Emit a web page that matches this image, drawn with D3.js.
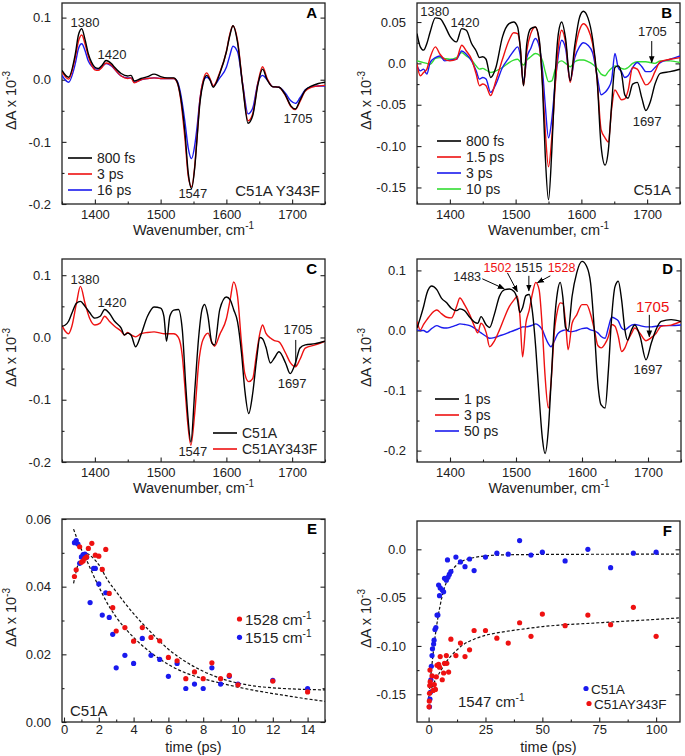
<!DOCTYPE html>
<html lang="en">
<head>
<meta charset="utf-8">
<title>Transient IR spectra and kinetics</title>
<script src="https://cdnjs.cloudflare.com/ajax/libs/d3/7.8.5/d3.min.js"></script>
<style>
  body { margin: 0; background: #fff; }
  svg { font-family: Arial, "Liberation Sans", sans-serif; }
  .tick text { font-size: 13px; fill: #222; }
  .tick line { stroke: #222; stroke-width: 1.1; }
</style>
</head>
<body>
<script>
// ---------- panel A : C51A Y343F ----------
var wnA = [1350,1360,1370,1375,1380,1385,1390,1395,1400,1405,1410,1417,1425,1430,1440,1450,1455,1460,1470,1480,1490,1500,1510,1520,1525,1530,1537,1542,1547,1552,1555,1560,1565,1570,1575,1580,1590,1600,1605,1610,1617,1625,1633,1640,1648,1655,1662,1670,1680,1690,1698,1705,1712,1720,1730,1740,1750];
var a800fs = [0.015,0.004,0.040,0.072,0.082,0.065,0.042,0.028,0.020,0.018,0.022,0.031,0.026,0.020,0.010,0.006,0.007,-0.002,0.002,0.005,0.009,0.005,0.003,0.003,-0.003,-0.025,-0.085,-0.150,-0.175,-0.140,-0.100,-0.035,-0.004,0.007,0.000,-0.012,0.010,0.045,0.070,0.087,0.060,-0.012,-0.070,-0.058,-0.008,0.017,0.000,-0.011,-0.012,-0.025,-0.042,-0.047,-0.033,-0.017,-0.010,-0.006,-0.004];
var a3ps = [0.013,0.001,0.035,0.062,0.072,0.058,0.038,0.024,0.016,0.015,0.019,0.027,0.024,0.017,0.006,0.002,0.003,-0.005,0.000,0.002,0.003,0.002,0.002,0.002,-0.004,-0.028,-0.095,-0.155,-0.172,-0.138,-0.098,-0.030,0.000,0.011,0.002,-0.010,0.012,0.045,0.072,0.087,0.063,-0.010,-0.066,-0.055,-0.005,0.021,0.002,-0.011,-0.012,-0.026,-0.043,-0.048,-0.035,-0.018,-0.012,-0.010,-0.009];
var a16ps = [0.007,-0.004,0.025,0.050,0.058,0.047,0.030,0.022,0.018,0.017,0.020,0.026,0.022,0.017,0.006,0.003,0.003,-0.004,0.000,0.002,0.003,0.002,0.002,0.002,-0.002,-0.020,-0.068,-0.110,-0.127,-0.105,-0.080,-0.030,-0.002,0.004,0.000,-0.010,0.003,0.020,0.038,0.054,0.045,-0.008,-0.055,-0.046,-0.005,0.007,0.000,-0.011,-0.012,-0.022,-0.034,-0.038,-0.029,-0.016,-0.011,-0.010,-0.010];

// ---------- panel B : C51A ----------
var wnB = [1350,1355,1360,1365,1370,1378,1385,1392,1400,1410,1418,1425,1433,1440,1445,1450,1455,1462,1470,1480,1490,1497,1503,1507,1512,1517,1523,1530,1536,1541,1545,1550,1555,1560,1565,1570,1576,1583,1590,1597,1603,1610,1617,1624,1630,1636,1641,1646,1651,1656,1661,1666,1671,1678,1685,1692,1698,1705,1712,1720,1735,1750];
var b800fs = [0.036,0.020,0.016,0.024,0.038,0.055,0.054,0.046,0.033,0.026,0.042,0.040,0.024,0.015,0.007,0.008,0.005,-0.017,-0.005,0.032,0.048,0.050,0.044,0.020,-0.027,0.024,0.042,0.044,0.028,-0.030,-0.110,-0.165,-0.106,-0.017,0.036,0.050,0.030,-0.021,0.022,0.055,0.063,0.055,0.030,-0.020,-0.100,-0.123,-0.105,-0.050,-0.005,-0.003,-0.012,-0.038,-0.042,-0.025,-0.023,-0.042,-0.057,-0.046,-0.025,-0.012,-0.010,-0.007];
var b1p5ps = [-0.001,-0.015,-0.011,-0.007,0.007,0.020,0.011,0.005,0.003,0.005,0.022,0.015,0.005,-0.013,-0.027,-0.025,-0.027,-0.039,-0.021,0.005,0.028,0.037,0.036,0.020,-0.027,0.015,0.036,0.044,0.025,-0.025,-0.080,-0.125,-0.090,-0.030,0.020,0.040,0.025,-0.023,0.015,0.040,0.048,0.042,0.024,-0.020,-0.080,-0.090,-0.095,-0.055,-0.032,-0.038,-0.044,-0.043,-0.033,-0.005,-0.007,-0.018,-0.026,-0.022,-0.010,0.002,0.005,0.007];
var b3ps = [-0.003,-0.009,-0.007,-0.013,0.001,0.007,0.009,0.003,0.004,0.005,0.015,0.011,0.003,-0.009,-0.019,-0.017,-0.019,-0.035,-0.025,-0.005,0.007,0.015,0.020,0.010,-0.023,0.007,0.018,0.030,0.020,-0.010,-0.050,-0.090,-0.068,-0.025,0.010,0.028,0.018,-0.021,0.007,0.020,0.025,0.022,0.013,-0.015,-0.038,-0.035,-0.030,-0.020,0.012,-0.005,-0.010,-0.017,-0.015,-0.005,0.001,-0.004,-0.010,-0.010,-0.005,0.001,0.005,0.009];
var b10ps = [0.003,0.002,0.001,0.000,-0.001,0.006,0.007,0.006,0.005,0.007,0.013,0.009,0.004,-0.003,-0.007,-0.006,-0.008,-0.011,-0.009,-0.005,0.001,0.004,0.005,0.002,-0.002,0.004,0.008,0.012,0.010,0.003,-0.010,-0.022,-0.021,-0.008,0.001,0.003,0.000,-0.004,0.002,0.004,0.004,0.002,-0.001,-0.006,-0.013,-0.015,-0.010,-0.006,-0.003,-0.004,-0.006,-0.007,-0.005,0.000,0.002,0.002,0.002,0.001,0.000,0.003,0.003,0.001];

// ---------- panel C : C51A vs C51AY343F ----------
var wnC = [1350,1355,1360,1365,1372,1378,1385,1392,1400,1408,1415,1422,1430,1440,1445,1450,1455,1462,1470,1480,1490,1500,1505,1509,1514,1520,1527,1533,1538,1541,1546,1552,1558,1563,1567,1572,1578,1582,1590,1600,1606,1611,1617,1623,1628,1634,1640,1646,1651,1655,1660,1667,1673,1680,1690,1697,1705,1712,1720,1735,1750];
var cC51A = [0.018,0.020,0.026,0.039,0.055,0.058,0.050,0.040,0.031,0.034,0.045,0.039,0.026,0.015,0.004,0.007,0.004,-0.015,0.004,0.034,0.049,0.047,0.034,-0.006,0.034,0.044,0.045,0.012,-0.074,-0.120,-0.168,-0.084,0.002,0.045,0.053,0.034,-0.009,-0.012,0.045,0.065,0.060,0.045,0.025,-0.025,-0.084,-0.122,-0.090,-0.035,0.000,-0.002,-0.015,-0.041,-0.033,-0.023,-0.041,-0.058,-0.041,-0.017,-0.012,-0.010,-0.006];
var cY343F = [0.019,0.010,0.006,0.018,0.055,0.082,0.055,0.031,0.020,0.023,0.034,0.026,0.018,0.010,0.004,0.008,0.004,0.001,0.006,0.008,0.009,0.007,0.006,0.006,0.006,0.006,0.000,-0.030,-0.095,-0.135,-0.173,-0.120,-0.040,-0.008,0.002,0.007,-0.008,-0.014,0.005,0.030,0.062,0.089,0.066,-0.009,-0.058,-0.071,-0.066,-0.025,0.007,0.020,0.007,-0.001,-0.005,-0.007,-0.025,-0.040,-0.047,-0.035,-0.017,-0.012,-0.006];

// ---------- panel D ----------
var wnD = [1350,1355,1360,1365,1372,1380,1387,1395,1402,1410,1415,1422,1430,1437,1442,1447,1455,1460,1467,1475,1483,1490,1497,1502,1506,1510,1515,1520,1525,1530,1535,1540,1544,1549,1553,1558,1563,1567,1571,1575,1579,1585,1592,1600,1607,1613,1619,1624,1629,1635,1640,1645,1650,1655,1660,1665,1669,1675,1680,1688,1697,1705,1712,1720,1735,1750];
var d1ps = [0.004,0.021,0.040,0.062,0.074,0.068,0.054,0.046,0.037,0.033,0.036,0.033,0.022,0.014,0.012,0.023,0.009,0.005,0.026,0.057,0.068,0.069,0.065,0.052,0.030,0.038,0.058,0.060,0.030,-0.030,-0.110,-0.180,-0.205,-0.165,-0.090,0.010,0.065,0.080,0.055,0.005,0.000,0.057,0.096,0.115,0.107,0.079,-0.004,-0.088,-0.124,-0.129,-0.066,0.023,0.073,0.082,0.051,0.001,-0.016,0.001,0.009,-0.010,-0.049,-0.021,0.001,0.015,0.018,0.015];
var d3ps = [0.015,0.001,0.010,0.018,0.028,0.034,0.028,0.022,0.021,0.040,0.054,0.043,0.026,0.007,-0.004,0.012,-0.004,-0.027,-0.018,0.001,0.023,0.040,0.051,0.057,0.023,-0.044,0.012,0.034,0.062,0.080,0.068,0.001,-0.075,-0.129,-0.088,-0.004,0.034,0.046,0.045,0.015,-0.032,0.012,0.026,0.043,0.043,0.027,0.000,-0.025,-0.029,-0.022,-0.010,0.010,0.007,-0.010,-0.035,-0.029,-0.018,-0.005,0.004,-0.005,-0.017,-0.012,-0.005,0.007,0.009,0.015];
var d50ps = [0.001,0.000,0.000,-0.003,0.003,0.008,0.005,0.004,0.006,0.009,0.011,0.010,0.008,0.004,0.000,-0.004,-0.010,-0.013,-0.012,-0.009,-0.006,-0.003,0.000,0.002,0.004,0.006,0.006,0.007,0.009,0.011,0.008,0.001,-0.010,-0.022,-0.027,-0.018,-0.006,-0.002,0.000,0.001,-0.001,-0.002,0.000,0.003,0.004,0.001,-0.001,-0.004,-0.010,-0.013,0.005,0.022,0.020,0.016,0.004,0.001,0.004,0.009,0.010,0.008,0.006,0.006,0.007,0.008,0.008,0.009];

// ---------- panel E : kinetics C51A (time ps, dA) ----------
var e1528 = [[0.6,0.043],[0.7,0.045],[0.9,0.0518],[1.0,0.0472],[1.1,0.0476],[1.2,0.0484],[1.3,0.0488],[1.4,0.0513],[1.6,0.0528],[1.8,0.0493],[2.0,0.049],[2.2,0.0451],[2.4,0.051],[2.6,0.038],[2.8,0.0338],[3.0,0.0269],[3.5,0.0279],[4,0.0239],[4.5,0.0279],[5,0.025],[5.5,0.024],[6,0.0191],[6.5,0.0181],[7,0.0128],[7.5,0.0148],[8,0.0128],[8.5,0.0175],[9,0.0128],[9.5,0.0138],[10,0.011],[12,0.0121],[14,0.0089]];
var e1515 = [[0.6,0.053],[0.7,0.0536],[0.8,0.0526],[0.9,0.0469],[1.0,0.0488],[1.1,0.0495],[1.2,0.0496],[1.3,0.0487],[1.5,0.0353],[1.7,0.0454],[1.8,0.0454],[2.0,0.0408],[2.2,0.0316],[2.4,0.0382],[2.6,0.0309],[2.8,0.0259],[3.0,0.016],[3.5,0.0197],[4,0.0173],[4.5,0.0247],[5,0.0197],[5.5,0.0185],[6,0.0135],[6.5,0.0173],[7,0.0099],[7.5,0.0112],[8,0.0099],[8.5,0.016],[9,0.0112],[9.5,0.0135],[10,0.0112],[12,0.0123],[14,0.0099]];
var e1528fit = [[0.55,0.041],[0.7,0.0445],[0.9,0.048],[1.1,0.0497],[1.3,0.0498],[1.6,0.0488],[2,0.0465],[2.5,0.042],[3,0.0385],[4,0.032],[5,0.0265],[6,0.0215],[7,0.0178],[8,0.015],[9,0.0129],[10,0.0115],[11,0.0106],[12,0.0101],[13,0.0098],[14,0.0096],[15,0.0095]];
var e1515fit = [[0.55,0.057],[0.8,0.0535],[1.0,0.051],[1.2,0.049],[1.5,0.0455],[2,0.040],[2.5,0.035],[3,0.031],[4,0.025],[5,0.0205],[6,0.017],[7,0.0145],[8,0.0128],[9,0.0115],[10,0.0103],[11,0.0093],[12,0.0084],[13,0.0076],[14,0.0068],[15,0.0061]];

// ---------- panel F : 1547 cm-1 kinetics ----------
var fC51A = [[0.4,-0.163],[0.6,-0.155],[0.8,-0.148],[1.0,-0.135],[1.2,-0.121],[1.5,-0.110],[1.7,-0.103],[2.2,-0.098],[2.4,-0.094],[2.8,-0.083],[3.2,-0.081],[3.7,-0.068],[4.1,-0.068],[4.4,-0.037],[4.8,-0.048],[5.1,-0.040],[6,-0.042],[6.6,-0.044],[7,-0.030],[7.8,-0.032],[8.3,-0.011],[8.5,-0.029],[9.1,-0.026],[9.8,-0.023],[12,-0.008],[14,-0.013],[16,-0.018],[18,-0.010],[20,-0.022],[25,-0.008],[30,-0.004],[35,-0.005],[40,0.009],[45,-0.006],[50,-0.003],[60,-0.012],[70,0.0],[80,-0.019],[90,-0.004],[100,-0.003]];
var fY343F = [[0.2,-0.163],[0.3,-0.157],[0.4,-0.149],[0.5,-0.141],[0.6,-0.125],[0.7,-0.137],[1.5,-0.131],[2,-0.146],[2.5,-0.140],[3,-0.145],[3.4,-0.132],[3.7,-0.120],[4.4,-0.119],[4.8,-0.122],[5.1,-0.111],[6,-0.135],[6.6,-0.128],[7,-0.118],[7.8,-0.110],[8,-0.118],[8.8,-0.127],[9.8,-0.093],[12,-0.110],[14,-0.097],[16,-0.111],[18,-0.104],[20,-0.084],[25,-0.084],[30,-0.092],[35,-0.097],[40,-0.076],[45,-0.090],[50,-0.067],[60,-0.079],[70,-0.068],[80,-0.078],[90,-0.060],[100,-0.090]];
var fC51Afit = [[0,-0.155],[1,-0.13],[2,-0.108],[3,-0.088],[4,-0.072],[5,-0.059],[6,-0.048],[8,-0.033],[10,-0.023],[12,-0.017],[15,-0.012],[20,-0.0085],[25,-0.0068],[30,-0.006],[40,-0.0055],[60,-0.0052],[110,-0.005]];
var fY343Ffit = [[0.3,-0.148],[1,-0.145],[2,-0.14],[3,-0.135],[5,-0.127],[7,-0.119],[10,-0.110],[12.5,-0.104],[15,-0.099],[20,-0.093],[25,-0.089],[30,-0.0865],[40,-0.083],[50,-0.080],[75,-0.076],[100,-0.0725],[110,-0.071]];

// tick label strings
var wnTicks = [1400,1500,1600,1700];
var ticksACD = [-0.2,-0.1,0,0.1];
var labelsACD = ["-0.2","-0.1","0.0","0.1"];
var ticksB = [-0.15,-0.10,-0.05,0,0.05];
var labelsB = ["-0.15","-0.10","-0.05","0.0","0.05"];
var ticksE = [0,0.02,0.04,0.06];
var labelsE = ["0.00","0.02","0.04","0.06"];
var timeTicksE = [0,2,4,6,8,10,12,14];
var ticksF = [-0.15,-0.10,-0.05,0];
var labelsF = ["-0.15","-0.10","-0.05","0.0"];
var timeTicksF = [0,25,50,75,100];

var RED = "#ee1111", BLUE = "#1a1aee", GREEN = "#33dd33", BLACK = "#000";

var W = 685, H = 756;
var svg = d3.select("body").append("svg").attr("width", W).attr("height", H);

var defs = svg.append("defs");
defs.append("marker").attr("id", "arr").attr("viewBox", "0 0 10 10")
	.attr("refX", 9).attr("refY", 5).attr("markerWidth", 7).attr("markerHeight", 7)
	.attr("orient", "auto").append("path").attr("d", "M0,1 L10,5 L0,9 Z").attr("fill", "#000");

// build one framed panel with inward ticks
function panel(o) {
	var g = svg.append("g");
	var x = d3.scaleLinear().domain(o.xDomain).range([o.left, o.right]);
	var y = d3.scaleLinear().domain(o.yDomain).range([o.bottom, o.top]);
	var noDomain = function(s) { s.select(".domain").remove(); };

	g.append("g").attr("transform", "translate(0," + o.bottom + ")")
		.call(d3.axisBottom(x).tickValues(o.xMinor).tickSize(-2.5).tickFormat("")).call(noDomain);
	g.append("g").attr("transform", "translate(0," + o.bottom + ")")
		.call(d3.axisBottom(x).tickValues(o.xMajor).tickSize(-4.5).tickPadding(o.xPad || 6)
			.tickFormat(o.xFmt || d3.format("d"))).call(noDomain);
	g.append("g").attr("transform", "translate(" + o.left + ",0)")
		.call(d3.axisLeft(y).tickValues(o.yMinor).tickSize(-2.5).tickFormat("")).call(noDomain);
	g.append("g").attr("transform", "translate(" + o.left + ",0)")
		.call(d3.axisLeft(y).tickValues(o.yMajor).tickSize(-4.5).tickPadding(11)
			.tickFormat(function(d, i) { return o.yLabels[i]; })).call(noDomain);
	g.append("g").attr("transform", "translate(" + o.right + ",0)")
		.call(d3.axisRight(y).tickValues(o.yMajor).tickSize(-4.5).tickFormat("")).call(noDomain);
	g.append("g").attr("transform", "translate(" + o.right + ",0)")
		.call(d3.axisRight(y).tickValues(o.yMinor).tickSize(-2.5).tickFormat("")).call(noDomain);

	g.append("rect").attr("x", o.left).attr("y", o.top)
		.attr("width", o.right - o.left).attr("height", o.bottom - o.top)
		.attr("fill", "none").attr("stroke", "#222").attr("stroke-width", 1.3);

	// y title
	var yt = g.append("text")
		.attr("transform", "translate(" + (o.left - 46) + "," + ((o.top + o.bottom) / 2 - 3) + ") rotate(-90)")
		.attr("text-anchor", "middle").style("font-size", "14.5px").attr("fill", "#222");
	yt.append("tspan").text("\u0394A x 10");
	yt.append("tspan").attr("dy", -6).style("font-size", "10px").text("-3");

	// x title
	var xt = g.append("text").attr("x", (o.left + o.right) / 2).attr("y", o.bottom + o.titleGap)
		.attr("text-anchor", "middle").style("font-size", "14.5px").attr("fill", "#222");
	xt.append("tspan").text(o.xTitle);
	if (o.xSup) xt.append("tspan").attr("dy", -6).style("font-size", "10px").text(o.xSup);

	g.append("text").attr("x", o.right - 8).attr("y", o.top + 15).attr("text-anchor", "end")
		.style("font-size", "15px").style("font-weight", "bold").text(o.letter);

	var clipId = "clip" + o.letter;
	defs.append("clipPath").attr("id", clipId).append("rect")
		.attr("x", o.left).attr("y", o.top).attr("width", o.right - o.left).attr("height", o.bottom - o.top);
	var plot = g.append("g").attr("clip-path", "url(#" + clipId + ")");
	return { g: g, plot: plot, x: x, y: y, o: o };
}

function spectrum(p, wn, vals, color) {
	var line = d3.line().x(function(d, i) { return p.x(wn[i]); }).y(function(d) { return p.y(d); })
		.curve(d3.curveMonotoneX);
	p.plot.append("path").datum(vals).attr("d", line)
		.attr("fill", "none").attr("stroke", color).attr("stroke-width", 1.4);
}

function fit(p, pts) {
	var line = d3.line().x(function(d) { return p.x(d[0]); }).y(function(d) { return p.y(d[1]); })
		.curve(d3.curveMonotoneX);
	p.plot.append("path").datum(pts).attr("d", line)
		.attr("fill", "none").attr("stroke", "#111").attr("stroke-width", 1.2).attr("stroke-dasharray", "3,2");
}

function dots(p, pts, color) {
	p.plot.selectAll(null).data(pts).enter().append("circle")
		.attr("cx", function(d) { return p.x(d[0]); }).attr("cy", function(d) { return p.y(d[1]); })
		.attr("r", 2.6).attr("fill", color);
}

function label(p, wn, v, txt, color, size) {
	p.g.append("text").attr("x", p.x(wn)).attr("y", p.y(v)).attr("text-anchor", "middle")
		.style("font-size", size || "13px").attr("fill", color || "#222").text(txt);
}

function arrow(p, w1, v1, w2, v2, head) {
	var l = p.g.append("line").attr("x1", p.x(w1)).attr("y1", p.y(v1)).attr("x2", p.x(w2)).attr("y2", p.y(v2))
		.attr("stroke", "#000").attr("stroke-width", 1);
	if (head !== false) l.attr("marker-end", "url(#arr)");
}

function legendLines(p, dx, dy0, step, names, colors) {
	names.forEach(function(n, i) {
		var yy = p.o.top + dy0 + i * step;
		p.g.append("line").attr("x1", p.o.left + dx).attr("x2", p.o.left + dx + 24)
			.attr("y1", yy).attr("y2", yy).attr("stroke", colors[i]).attr("stroke-width", 1.6);
		p.g.append("text").attr("x", p.o.left + dx + 29).attr("y", yy + 5)
			.style("font-size", "14px").attr("fill", "#222").text(n);
	});
}

var wnMinor = [1350,1450,1550,1650,1750];

// ---- A ----
var pA = panel({ letter: "A", left: 62, right: 325, top: 3, bottom: 204,
	xDomain: [1350, 1750], yDomain: [-0.2, 0.1235], xMajor: wnTicks, xMinor: wnMinor,
	yMajor: ticksACD, yLabels: labelsACD, yMinor: [-0.15,-0.05,0.05],
	xTitle: "Wavenumber, cm", xSup: "-1", titleGap: 31 });
spectrum(pA, wnA, a16ps, BLUE);
spectrum(pA, wnA, a3ps, RED);
spectrum(pA, wnA, a800fs, BLACK);
label(pA, 1385, 0.085, "1380");
label(pA, 1426, 0.034, "1420");
label(pA, 1549, -0.191, "1547");
label(pA, 1709, -0.070, "1705");
pA.g.append("text").attr("x", 320).attr("y", 196).attr("text-anchor", "end")
	.style("font-size", "15px").attr("fill", "#222").text("C51A Y343F");
legendLines(pA, 6, 155, 16, ["800 fs", "3 ps", "16 ps"], [BLACK, RED, BLUE]);

// ---- B ----
var pB = panel({ letter: "B", left: 417, right: 680, top: 3, bottom: 204,
	xDomain: [1350, 1750], yDomain: [-0.17, 0.073], xMajor: wnTicks, xMinor: wnMinor,
	yMajor: ticksB, yLabels: labelsB, yMinor: [-0.125,-0.075,-0.025,0.025],
	xTitle: "Wavenumber, cm", xSup: "-1", titleGap: 31 });
spectrum(pB, wnB, b10ps, GREEN);
spectrum(pB, wnB, b3ps, BLUE);
spectrum(pB, wnB, b1p5ps, RED);
spectrum(pB, wnB, b800fs, BLACK);
label(pB, 1377, 0.0575, "1380");
label(pB, 1423, 0.0434, "1420");
label(pB, 1708, 0.0334, "1705");
arrow(pB, 1707, 0.027, 1707, 0.001);
label(pB, 1700, -0.076, "1697");
pB.g.append("text").attr("x", 671).attr("y", 195).attr("text-anchor", "end")
	.style("font-size", "15px").attr("fill", "#222").text("C51A");
legendLines(pB, 20, 138, 16, ["800 fs", "1.5 ps", "3 ps", "10 ps"], [BLACK, RED, BLUE, GREEN]);

// ---- C ----
var pC = panel({ letter: "C", left: 62, right: 325, top: 259, bottom: 462,
	xDomain: [1350, 1750], yDomain: [-0.2, 0.126], xMajor: wnTicks, xMinor: wnMinor,
	yMajor: ticksACD, yLabels: labelsACD, yMinor: [-0.15,-0.05,0.05],
	xTitle: "Wavenumber, cm", xSup: "-1", titleGap: 31 });
spectrum(pC, wnC, cY343F, RED);
spectrum(pC, wnC, cC51A, BLACK);
label(pC, 1385, 0.086, "1380");
label(pC, 1426, 0.049, "1420");
label(pC, 1549, -0.190, "1547");
label(pC, 1709, 0.006, "1705");
arrow(pC, 1705.5, -0.004, 1705.5, -0.046, false);
label(pC, 1700, -0.081, "1697");
legendLines(pC, 151, 174, 16, ["C51A", "C51AY343F"], [BLACK, RED]);

// ---- D ----
var pD = panel({ letter: "D", left: 417, right: 681, top: 259, bottom: 462,
	xDomain: [1350, 1750], yDomain: [-0.219, 0.119], xMajor: wnTicks, xMinor: wnMinor,
	yMajor: ticksACD, yLabels: labelsACD, yMinor: [-0.15,-0.05,0.05],
	xTitle: "Wavenumber, cm", xSup: "-1", titleGap: 31 });
spectrum(pD, wnD, d50ps, BLUE);
spectrum(pD, wnD, d3ps, RED);
spectrum(pD, wnD, d1ps, BLACK);
label(pD, 1426, 0.083, "1483", null, "12.5px");
arrow(pD, 1449, 0.086, 1482, 0.0695);
label(pD, 1472, 0.097, "1502", RED, "12.5px");
arrow(pD, 1487, 0.096, 1502, 0.0645);
label(pD, 1519, 0.097, "1515", null, "12.5px");
arrow(pD, 1519.5, 0.091, 1519.5, 0.066);
label(pD, 1569, 0.097, "1528", RED, "12.5px");
arrow(pD, 1552, 0.091, 1532.6, 0.0795);
label(pD, 1707, 0.030, "1705", RED, "15px");
arrow(pD, 1702, 0.026, 1702, -0.0105);
label(pD, 1700, -0.072, "1697");
legendLines(pD, 18, 140, 16, ["1 ps", "3 ps", "50 ps"], [BLACK, RED, BLUE]);

// ---- E ----
var pE = panel({ letter: "E", left: 62, right: 325, top: 519, bottom: 722,
	xDomain: [-0.115, 15.0], yDomain: [0, 0.06], xMajor: timeTicksE, xMinor: [1,3,5,7,9,11,13,15],
	xFmt: d3.format("d"), xPad: 3, yMajor: ticksE, yLabels: labelsE, yMinor: [0.01,0.03,0.05],
	xTitle: "time (ps)", titleGap: 29.5 });
fit(pE, e1528fit);
fit(pE, e1515fit);
dots(pE, e1515, BLUE);
dots(pE, e1528, RED);
pE.g.append("text").attr("x", 70).attr("y", 716).style("font-size", "15px").attr("fill", "#222").text("C51A");
[["1528 cm", RED], ["1515 cm", BLUE]].forEach(function(d, i) {
	var yy = 619 + i * 18.3;
	pE.g.append("circle").attr("cx", 239.5).attr("cy", yy).attr("r", 2.6).attr("fill", d[1]);
	var t = pE.g.append("text").attr("x", 245).attr("y", yy + 5.5).style("font-size", "15px").attr("fill", "#222");
	t.append("tspan").text(d[0]);
	t.append("tspan").attr("dy", -6).style("font-size", "10px").text("-1");
});

// ---- F ----
var pF = panel({ letter: "F", left: 417, right: 680, top: 521, bottom: 722,
	xDomain: [-5.1, 110.5], yDomain: [-0.1787, 0.0293], xMajor: timeTicksF, xMinor: [12.5,37.5,62.5,87.5],
	xFmt: d3.format("d"), xPad: 3, yMajor: ticksF, yLabels: labelsF, yMinor: [-0.125,-0.075,-0.025],
	xTitle: "time (ps)", titleGap: 29.5 });
fit(pF, fC51Afit);
fit(pF, fY343Ffit);
dots(pF, fC51A, BLUE);
dots(pF, fY343F, RED);
var ft = pF.g.append("text").attr("x", 458).attr("y", 707).style("font-size", "15px").attr("fill", "#222");
ft.append("tspan").text("1547 cm");
ft.append("tspan").attr("dy", -6).style("font-size", "10px").text("-1");
[["C51A", BLUE], ["C51AY343F", RED]].forEach(function(d, i) {
	var yy = 688.5 + i * 15;
	pF.g.append("circle").attr("cx", 586 + i * 3).attr("cy", yy).attr("r", 2.6).attr("fill", d[1]);
	pF.g.append("text").attr("x", 591 + i * 3).attr("y", yy + 5).style("font-size", "13.5px")
		.attr("fill", "#222").text(d[0]);
});
</script>
</body>
</html>
